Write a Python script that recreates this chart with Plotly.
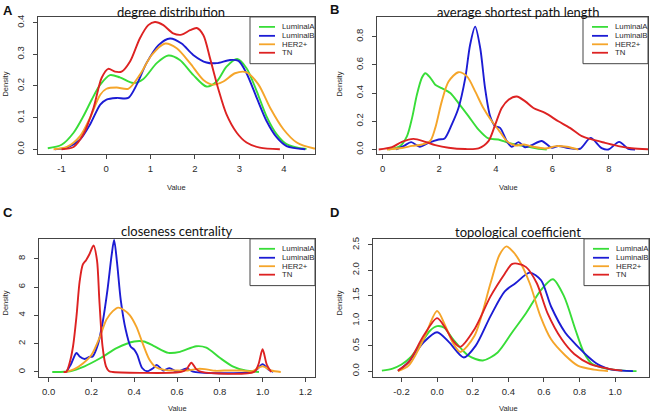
import plotly.graph_objects as go

# ---------------- data ----------------
series_names = ["LuminalA", "LuminalB", "HER2+", "TN"]
panel_titles = ["degree distribution", "average shortest path length",
                "closeness centrality", "topological coefficient"]
panel_letters = ["A", "B", "C", "D"]

# A: degree distribution
deg_x_lumA = [-1.31, -1.0, -0.73, -0.51, -0.32, -0.13, 0.09, 0.31, 0.61, 0.84, 1.14, 1.40, 1.66, 1.96, 2.26, 2.49, 2.71, 2.95, 3.16, 3.39, 3.61, 3.84, 4.06, 4.36, 4.51]
deg_y_lumA = [0.003, 0.014, 0.052, 0.104, 0.157, 0.204, 0.234, 0.227, 0.209, 0.222, 0.272, 0.296, 0.282, 0.235, 0.198, 0.214, 0.261, 0.285, 0.256, 0.183, 0.104, 0.047, 0.016, 0.003, 0.001]
deg_x_lumB = [-1.15, -0.88, -0.58, -0.36, -0.13, 0.01, 0.24, 0.50, 0.69, 0.91, 1.18, 1.44, 1.70, 1.96, 2.26, 2.49, 2.79, 2.98, 3.16, 3.39, 3.61, 3.84, 4.06, 4.48]
deg_y_lumB = [0.0, 0.005, 0.031, 0.078, 0.141, 0.157, 0.162, 0.162, 0.204, 0.272, 0.329, 0.35, 0.334, 0.298, 0.274, 0.272, 0.282, 0.279, 0.24, 0.162, 0.089, 0.037, 0.01, 0.0]
deg_x_her2 = [-1.18, -0.88, -0.58, -0.36, -0.13, 0.01, 0.24, 0.50, 0.76, 1.03, 1.33, 1.59, 1.89, 2.19, 2.41, 2.64, 2.90, 3.16, 3.43, 3.69, 3.99, 4.29, 4.66, 4.9]
deg_y_her2 = [0.0, 0.007, 0.042, 0.099, 0.172, 0.191, 0.195, 0.191, 0.235, 0.298, 0.334, 0.319, 0.272, 0.219, 0.204, 0.214, 0.24, 0.243, 0.204, 0.131, 0.063, 0.021, 0.003, 0.0]
deg_x_tn = [-1.0, -0.73, -0.51, -0.28, -0.10, 0.05, 0.20, 0.35, 0.54, 0.76, 0.95, 1.10, 1.29, 1.51, 1.70, 1.89, 2.04, 2.19, 2.34, 2.53, 2.71, 2.94, 3.16, 3.46, 3.91]
deg_y_tn = [0.0, 0.007, 0.047, 0.131, 0.225, 0.254, 0.245, 0.245, 0.277, 0.35, 0.392, 0.402, 0.392, 0.366, 0.362, 0.376, 0.383, 0.36, 0.287, 0.188, 0.11, 0.052, 0.021, 0.005, 0.0]

# B: average shortest path length
asp_x_lumA = [0.21, 0.62, 0.86, 1.04, 1.21, 1.39, 1.51, 1.68, 1.86, 2.09, 2.39, 2.68, 3.04, 3.39, 3.74, 4.09, 4.45, 4.80, 5.15, 5.51, 5.80]
asp_y_lumA = [0.0, 0.024, 0.094, 0.224, 0.388, 0.51, 0.541, 0.51, 0.459, 0.435, 0.40, 0.329, 0.235, 0.141, 0.078, 0.071, 0.047, 0.031, 0.019, 0.005, 0.0]
asp_x_lumB = [0.47, 0.74, 1.01, 1.31, 1.62, 1.98, 2.19, 2.45, 2.68, 2.92, 3.09, 3.27, 3.45, 3.62, 3.80, 3.98, 4.15, 4.39, 4.56, 4.80, 5.04, 5.27, 5.62, 5.98, 6.21, 6.56, 6.98, 7.35, 7.74, 7.98, 8.36, 8.68, 8.92]
asp_y_lumB = [0.0, 0.024, 0.052, 0.019, 0.047, 0.071, 0.078, 0.18, 0.294, 0.506, 0.741, 0.871, 0.718, 0.435, 0.235, 0.165, 0.153, 0.059, 0.019, 0.052, 0.015, 0.03, 0.06, 0.012, 0.025, 0.01, 0.005, 0.082, 0.01, 0.0, 0.054, 0.005, 0.0]
asp_x_her2 = [0.15, 0.68, 1.04, 1.39, 1.68, 1.86, 2.09, 2.33, 2.68, 2.98, 3.27, 3.56, 3.86, 4.09, 4.39, 4.68, 5.0, 5.33, 5.74, 6.15, 6.51, 6.92]
asp_y_her2 = [0.0, 0.01, 0.025, 0.035, 0.06, 0.153, 0.341, 0.482, 0.548, 0.518, 0.412, 0.294, 0.20, 0.141, 0.059, 0.028, 0.035, 0.019, 0.007, 0.024, 0.019, 0.0]
asp_x_tn = [-0.14, 0.33, 0.68, 1.09, 1.51, 1.86, 2.33, 2.92, 3.39, 3.74, 3.98, 4.21, 4.45, 4.74, 5.04, 5.33, 5.74, 6.21, 6.62, 7.04, 7.39, 7.86, 8.33, 8.8, 9.39]
asp_y_tn = [0.0, 0.016, 0.054, 0.075, 0.054, 0.031, 0.012, 0.003, 0.008, 0.059, 0.176, 0.294, 0.353, 0.376, 0.341, 0.294, 0.259, 0.20, 0.153, 0.094, 0.071, 0.047, 0.024, 0.009, 0.002]

# C: closeness centrality
clo_x_lumA = [0.017, 0.1, 0.168, 0.245, 0.32, 0.40, 0.445, 0.49, 0.56, 0.614, 0.69, 0.737, 0.80, 0.86, 0.92, 0.983]
clo_y_lumA = [0.0, 0.05, 0.4, 1.0, 1.7, 2.15, 2.15, 1.85, 1.35, 1.42, 1.82, 1.72, 1.0, 0.4, 0.1, 0.0]
clo_x_lumB = [0.083, 0.106, 0.13, 0.145, 0.168, 0.19, 0.206, 0.23, 0.252, 0.275, 0.294, 0.306, 0.32, 0.337, 0.36, 0.383, 0.40, 0.414, 0.437, 0.46, 0.49, 0.505, 0.535, 0.565, 0.60, 0.645, 0.68, 0.95, 0.975, 1.0, 1.025, 1.05]
clo_y_lumB = [0.0, 0.6, 1.34, 1.1, 0.92, 1.06, 1.1, 1.93, 3.46, 5.8, 8.2, 9.34, 7.7, 5.1, 3.0, 1.8, 1.58, 1.22, 0.28, 0.05, 0.28, 0.5, 0.1, 0.27, 0.02, 0.25, 0.0, 0.0, 0.2, 0.55, 0.2, 0.0]
clo_x_her2 = [0.08, 0.12, 0.16, 0.2, 0.24, 0.27, 0.30, 0.325, 0.35, 0.38, 0.41, 0.44, 0.47, 0.50, 0.54, 0.60, 0.65, 0.70, 0.73, 0.78, 0.82, 0.90, 0.95, 1.0, 1.04, 1.085]
clo_y_her2 = [0.0, 0.2, 0.6, 1.2, 2.5, 3.7, 4.3, 4.55, 4.4, 4.0, 3.2, 2.0, 0.9, 0.35, 0.15, 0.1, 0.1, 0.22, 0.2, 0.08, 0.1, 0.1, 0.05, 0.4, 0.1, 0.0]
clo_x_tn = [0.07, 0.083, 0.098, 0.114, 0.13, 0.145, 0.16, 0.175, 0.19, 0.21, 0.226, 0.237, 0.252, 0.268, 0.283, 0.30, 0.62, 0.645, 0.667, 0.69, 0.715, 0.96, 0.98, 1.0, 1.02, 1.04]
clo_y_tn = [0.0, 0.02, 0.63, 1.8, 3.9, 6.4, 7.6, 7.9, 8.3, 8.94, 7.9, 5.1, 1.8, 0.4, 0.05, 0.0, 0.0, 0.2, 0.65, 0.2, 0.0, 0.0, 0.5, 1.6, 0.5, 0.0]

# D: topological coefficient
top_x_lumA = [-0.31, -0.25, -0.2, -0.15, -0.09, -0.04, 0.0, 0.04, 0.09, 0.175, 0.257, 0.34, 0.42, 0.5, 0.584, 0.65, 0.713, 0.776, 0.824, 0.872, 0.95, 1.05, 1.12]
top_y_lumA = [0.01, 0.05, 0.13, 0.27, 0.55, 0.8, 0.89, 0.86, 0.63, 0.31, 0.21, 0.37, 0.76, 1.15, 1.61, 1.82, 1.48, 0.83, 0.37, 0.14, 0.05, 0.01, 0.0]
top_x_lumB = [-0.22, -0.16, -0.076, 0.0, 0.068, 0.15, 0.216, 0.3, 0.38, 0.44, 0.52, 0.584, 0.64, 0.72, 0.76, 0.8, 0.85, 0.9, 0.95, 1.0, 1.1]
top_y_lumB = [0.0, 0.18, 0.57, 0.77, 0.57, 0.27, 0.5, 1.09, 1.58, 1.74, 1.95, 1.8, 1.28, 0.76, 0.6, 0.45, 0.28, 0.14, 0.06, 0.02, 0.0]
top_x_her2 = [-0.22, -0.16, -0.076, 0.0, 0.047, 0.09, 0.13, 0.21, 0.3, 0.35, 0.39, 0.43, 0.46, 0.52, 0.58, 0.64, 0.72, 0.79, 0.88, 0.96]
top_y_her2 = [0.0, 0.11, 0.63, 1.19, 0.89, 0.55, 0.38, 0.7, 1.74, 2.3, 2.47, 2.35, 2.2, 1.74, 1.09, 0.63, 0.31, 0.11, 0.03, 0.0]
top_x_tn = [-0.22, -0.16, -0.076, 0.0, 0.047, 0.09, 0.13, 0.21, 0.3, 0.38, 0.42, 0.45, 0.5, 0.56, 0.62, 0.7, 0.77, 0.86, 0.96, 1.04]
top_y_tn = [0.01, 0.18, 0.7, 1.05, 0.85, 0.6, 0.48, 0.83, 1.48, 1.93, 2.12, 2.13, 2.06, 1.74, 1.15, 0.63, 0.34, 0.14, 0.05, 0.01]

# tick labels
deg_xticks = [-1, 0, 1, 2, 3, 4]
deg_xticklabels = ["-1", "0", "1", "2", "3", "4"]
deg_yticks = [0.0, 0.1, 0.2, 0.3, 0.4]
deg_yticklabels = ["0.0", "0.1", "0.2", "0.3", "0.4"]
asp_xticks = [0, 2, 4, 6, 8]
asp_xticklabels = ["0", "2", "4", "6", "8"]
asp_yticks = [0.0, 0.2, 0.4, 0.6, 0.8]
asp_yticklabels = ["0.0", "0.2", "0.4", "0.6", "0.8"]
clo_xticks = [0.0, 0.2, 0.4, 0.6, 0.8, 1.0, 1.2]
clo_xticklabels = ["0.0", "0.2", "0.4", "0.6", "0.8", "1.0", "1.2"]
clo_yticks = [0, 2, 4, 6, 8]
clo_yticklabels = ["0", "2", "4", "6", "8"]
top_xticks = [-0.2, 0.0, 0.2, 0.4, 0.6, 0.8, 1.0]
top_xticklabels = ["-0.2", "0.0", "0.2", "0.4", "0.6", "0.8", "1.0"]
top_yticks = [0.0, 0.5, 1.0, 1.5, 2.0, 2.5]
top_yticklabels = ["0.0", "0.5", "1.0", "1.5", "2.0", "2.5"]

# ---------------- layout / styling ----------------
W, H = 650, 413
colors = ["#38dd38", "#1c1cd4", "#f5a52a", "#dd2222"]
FRAME = "#444444"
TXT = "#2a2a2a"

panels = [
    dict(xs=[deg_x_lumA, deg_x_lumB, deg_x_her2, deg_x_tn],
         ys=[deg_y_lumA, deg_y_lumB, deg_y_her2, deg_y_tn],
         xt=(deg_xticks, deg_xticklabels), yt=(deg_yticks, deg_yticklabels),
         box=(38, 315, 15, 153), xr=[-1.53, 4.70], yr=[-0.016, 0.418],
         title_pos=(171, 10), letter_pos=(8, 9), value_pos=(176, 186), dens_pos=(6, 83)),
    dict(xs=[asp_x_lumA, asp_x_lumB, asp_x_her2, asp_x_tn],
         ys=[asp_y_lumA, asp_y_lumB, asp_y_her2, asp_y_tn],
         xt=(asp_xticks, asp_xticklabels), yt=(asp_yticks, asp_yticklabels),
         box=(377, 648, 15, 153), xr=[-0.2, 9.38], yr=[-0.034, 0.94],
         title_pos=(518, 10), letter_pos=(334, 8), value_pos=(508, 186), dens_pos=(340, 83)),
    dict(xs=[clo_x_lumA, clo_x_lumB, clo_x_her2, clo_x_tn],
         ys=[clo_y_lumA, clo_y_lumB, clo_y_her2, clo_y_tn],
         xt=(clo_xticks, clo_xticklabels), yt=(clo_yticks, clo_yticklabels),
         box=(39, 315, 238, 377), xr=[-0.045, 1.245], yr=[-0.37, 9.41],
         title_pos=(177, 230), letter_pos=(8, 212), value_pos=(177, 408), dens_pos=(6, 303)),
    dict(xs=[top_x_lumA, top_x_lumB, top_x_her2, top_x_tn],
         ys=[top_y_lumA, top_y_lumB, top_y_her2, top_y_tn],
         xt=(top_xticks, top_xticklabels), yt=(top_yticks, top_yticklabels),
         box=(373, 649, 238, 377), xr=[-0.36, 1.19], yr=[-0.12, 2.62],
         title_pos=(518, 231), letter_pos=(335, 212), value_pos=(508, 408), dens_pos=(340, 303)),
]


def px(xp):
    return xp / W


def py(yp):
    return 1 - yp / H


fig = go.Figure()
annotations = []
shapes = []
layout_axes = {}

for i, p in enumerate(panels):
    n = "" if i == 0 else str(i + 1)
    for s in range(4):
        fig.add_trace(go.Scatter(
            x=p["xs"][s], y=p["ys"][s], mode="lines", name=series_names[s],
            line=dict(color=colors[s], width=1.9, shape="spline", smoothing=0.8),
            xaxis="x" + n, yaxis="y" + n, showlegend=False, hoverinfo="skip"))
    l, r, t, b = p["box"]
    common = dict(showline=True, mirror=True, linecolor=FRAME, linewidth=1,
                  ticks="outside", ticklen=4, tickcolor=FRAME, tickwidth=1,
                  showgrid=False, zeroline=False, fixedrange=True,
                  tickfont=dict(family="Liberation Sans, Arial, sans-serif", size=9.5, color=TXT))
    layout_axes["xaxis" + n] = dict(common, domain=[px(l), px(r)], range=p["xr"],
                                    anchor="y" + n, tickmode="array",
                                    tickvals=p["xt"][0], ticktext=p["xt"][1],
                                    ticklabelstandoff=1)
    layout_axes["yaxis" + n] = dict(common, domain=[py(b), py(t)], range=p["yr"],
                                    anchor="x" + n, tickmode="array",
                                    tickvals=p["yt"][0], ticktext=p["yt"][1],
                                    tickangle=-90, ticklabelstandoff=5)
    # titles and labels
    tx, ty = p["title_pos"]
    annotations.append(dict(text=panel_titles[i], x=px(tx), y=py(ty), xref="paper", yref="paper",
                            xanchor="center", yanchor="middle", showarrow=False,
                            font=dict(family="Lato, sans-serif", size=13, color="#111111")))
    lx, ly = p["letter_pos"]
    annotations.append(dict(text="<b>" + panel_letters[i] + "</b>", x=px(lx), y=py(ly),
                            xref="paper", yref="paper", xanchor="center", yanchor="middle",
                            showarrow=False,
                            font=dict(family="Liberation Sans, Arial, sans-serif", size=13, color="#111111")))
    vx, vy = p["value_pos"]
    annotations.append(dict(text="Value", x=px(vx), y=py(vy), xref="paper", yref="paper",
                            xanchor="center", yanchor="middle", showarrow=False,
                            font=dict(family="Liberation Sans, Arial, sans-serif", size=7.5, color=TXT)))
    dx, dy = p["dens_pos"]
    annotations.append(dict(text="Density", x=px(dx), y=py(dy), xref="paper", yref="paper",
                            xanchor="center", yanchor="middle", showarrow=False, textangle=-90,
                            font=dict(family="Liberation Sans, Arial, sans-serif", size=7.5, color=TXT)))
    # legend box (top-right of the panel)
    lg_l, lg_r, lg_t, lg_b = r - 65, r, t, t + 47
    shapes.append(dict(type="rect", xref="paper", yref="paper",
                       x0=px(lg_l), x1=px(lg_r), y0=py(lg_b), y1=py(lg_t),
                       line=dict(color=FRAME, width=1), fillcolor="white", layer="above"))
    rows = [10, 19, 27.5, 36]
    for s in range(4):
        yy = lg_t + rows[s]
        shapes.append(dict(type="line", xref="paper", yref="paper",
                           x0=px(lg_l + 9), x1=px(lg_l + 25), y0=py(yy), y1=py(yy),
                           line=dict(color=colors[s], width=1.8), layer="above"))
        annotations.append(dict(text=series_names[s], x=px(lg_l + 29.5), y=py(yy),
                                xref="paper", yref="paper", xanchor="left", yanchor="middle",
                                showarrow=False,
                                font=dict(family="Liberation Sans, Arial, sans-serif", size=7.8, color=TXT)))

fig.update_layout(
    width=W, height=H, margin=dict(l=0, r=0, t=0, b=0),
    paper_bgcolor="white", plot_bgcolor="white",
    annotations=annotations, shapes=shapes, showlegend=False,
    **layout_axes)

fig.write_html("out.html", config={"displayModeBar": False},
               post_script="document.body.style.margin='0';")
